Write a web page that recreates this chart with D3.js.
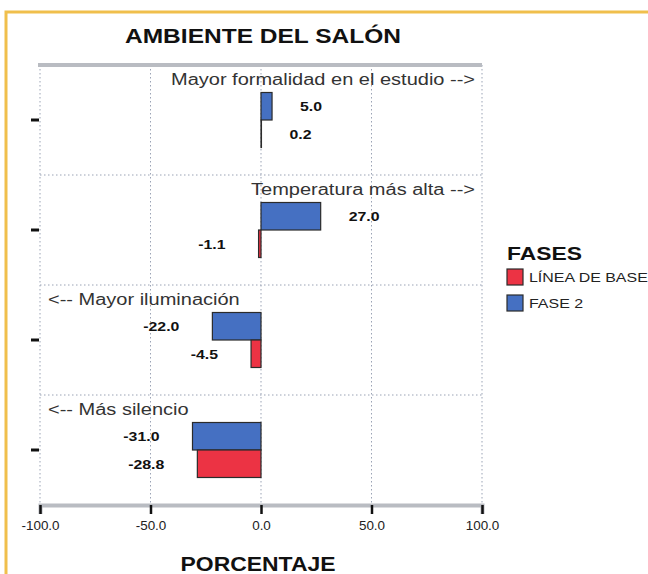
<!DOCTYPE html>
<html>

<head>
  <title>Ambiente del salón</title>
  <meta charset="utf-8">
  <script src="https://d3js.org/d3.v7.min.js"></script>
  <style>
    body { margin: 0; background: #fff; }
    svg text { font-family: "Liberation Sans", Arial, sans-serif; }
    .grid line { stroke: #9aa3b5; stroke-dasharray: 1.5 2.5; stroke-width: 1; }
    .value { font-weight: bold; font-size: 13px; fill: #111; }
    .cat { font-size: 16px; fill: #333; }
  </style>
</head>

<body>
  <svg id="chart" width="648" height="574"></svg>
  <script>
    // data
    var categories = ["Mayor formalidad en el estudio -->", "Temperatura más alta -->", "<-- Mayor iluminación", "<-- Más silencio"];
    var fase2 = [5.0, 27.0, -22.0, -31.0];
    var lineaBase = [0.2, -1.1, -4.5, -28.8];
    var series = ["FASE 2", "LÍNEA DE BASE"];
    var legendOrder = ["LÍNEA DE BASE", "FASE 2"];
    var xTicks = [-100, -50, 0, 50, 100];

    var colors = { "FASE 2": "#4570c2", "LÍNEA DE BASE": "#ec3344" };
    var plotLeft = 40, plotRight = 482, plotTop = 65, plotBottom = 505;

    // hyphen instead of the unicode minus, like the original
    function fmt(v) { return d3.format('.1f')(v).replace('\u2212', '-'); }

    // the original image is a bit stretched sideways, so texts are widened
    function stretch(sel, fx, fy, sx) {
      sel.attr('x', 0).attr('y', 0)
        .attr('transform', function (d, i) {
          return 'translate(' + fx(d, i) + ',' + fy(d, i) + ') scale(' + sx + ',1)';
        });
    }

    var svg = d3.select('#chart');

    // orange frame of the figure
    svg.append('path')
      .attr('d', 'M6,574 L6,12 L648,12')
      .attr('fill', 'none')
      .attr('stroke', '#f0bf4c')
      .attr('stroke-width', 3);

    var x = d3.scaleLinear().domain([-100, 100]).range([plotLeft, plotRight]);
    var y = d3.scaleBand().domain(categories).range([plotTop, plotBottom]);
    var ySub = d3.scaleBand().domain(series).range([y.bandwidth() * 0.25, y.bandwidth() * 0.75]);

    // grid
    var grid = svg.append('g').attr('class', 'grid');
    grid.selectAll('line.v')
      .data(xTicks)
      .enter().append('line')
      .attr('class', 'v')
      .attr('x1', function (d) { return x(d); })
      .attr('x2', function (d) { return x(d); })
      .attr('y1', plotTop).attr('y2', plotBottom);
    grid.selectAll('line.h')
      .data(categories.slice(1))
      .enter().append('line')
      .attr('class', 'h')
      .attr('x1', plotLeft).attr('x2', plotRight)
      .attr('y1', function (d) { return y(d); })
      .attr('y2', function (d) { return y(d); });

    // top border
    svg.append('line')
      .attr('x1', plotLeft - 2).attr('x2', plotRight)
      .attr('y1', plotTop).attr('y2', plotTop)
      .attr('stroke', '#b9bcc2').attr('stroke-width', 4);

    // category texts
    var cats = svg.selectAll('text.cat')
      .data(categories)
      .enter().append('text')
      .attr('class', 'cat')
      .attr('text-anchor', function (d, i) { return i < 2 ? 'end' : 'start'; })
      .text(function (d) { return d; });
    stretch(cats,
      function (d, i) { return i < 2 ? 475 : 48; },
      function (d) { return y(d) + 20; }, 1.25);

    // bars
    var rows = [];
    categories.forEach(function (c, i) {
      rows.push({ cat: c, s: "FASE 2", v: fase2[i] });
      rows.push({ cat: c, s: "LÍNEA DE BASE", v: lineaBase[i] });
    });

    svg.selectAll('rect.bar')
      .data(rows)
      .enter().append('rect')
      .attr('class', 'bar')
      .attr('x', function (d) { return x(Math.min(0, d.v)); })
      .attr('width', function (d) { return Math.abs(x(d.v) - x(0)); })
      .attr('y', function (d) { return y(d.cat) + ySub(d.s); })
      .attr('height', ySub.bandwidth())
      .attr('fill', function (d) { return colors[d.s]; })
      .attr('stroke', '#2b2b2b')
      .attr('stroke-width', 1.2);

    var vals = svg.selectAll('text.value')
      .data(rows)
      .enter().append('text')
      .attr('class', 'value')
      .attr('text-anchor', function (d) { return d.v >= 0 ? 'start' : 'end'; })
      .text(function (d) { return fmt(d.v); });
    stretch(vals,
      function (d) { return d.v >= 0 ? x(d.v) + 28 : x(d.v) - 33; },
      function (d) { return y(d.cat) + ySub(d.s) + ySub.bandwidth() / 2 + 5; }, 1.22);

    // category ticks on the left
    svg.selectAll('line.ytick')
      .data(categories)
      .enter().append('line')
      .attr('class', 'ytick')
      .attr('x1', 31).attr('x2', 39)
      .attr('y1', function (d) { return y(d) + y.bandwidth() / 2; })
      .attr('y2', function (d) { return y(d) + y.bandwidth() / 2; })
      .attr('stroke', '#111').attr('stroke-width', 3);

    // x axis
    var xAxis = d3.axisBottom(x)
      .tickValues(xTicks)
      .tickSize(9)
      .tickFormat(fmt);
    var ax = svg.append('g')
      .attr('transform', 'translate(0,' + plotBottom + ')')
      .call(xAxis);
    ax.select('.domain').attr('stroke', '#b9bcc2').attr('stroke-width', 4);
    ax.selectAll('.tick line').attr('stroke', '#111').attr('stroke-width', 2.5);
    ax.selectAll('.tick text')
      .attr('y', 16)
      .attr('font-size', 12)
      .attr('fill', '#222')
      .attr('font-family', '"Liberation Sans", Arial, sans-serif')
      .attr('transform', 'scale(1.12,1)')
      .attr('x', 0);
    ax.selectAll('.tick text').attr('x', 0);

    // titles
    svg.append('text')
      .attr('x', 263).attr('y', 43)
      .attr('text-anchor', 'middle')
      .attr('font-size', 21).attr('font-weight', 'bold').attr('fill', '#111')
      .attr('textLength', 276).attr('lengthAdjust', 'spacingAndGlyphs')
      .text('AMBIENTE DEL SALÓN');
    svg.append('text')
      .attr('x', 258).attr('y', 571)
      .attr('text-anchor', 'middle')
      .attr('font-size', 21).attr('font-weight', 'bold').attr('fill', '#111')
      .attr('textLength', 155).attr('lengthAdjust', 'spacingAndGlyphs')
      .text('PORCENTAJE');

    // legend
    var lg = svg.append('g').attr('transform', 'translate(507,0)');
    lg.append('text')
      .attr('x', 0).attr('y', 260)
      .attr('font-size', 19).attr('font-weight', 'bold').attr('fill', '#111')
      .attr('textLength', 75).attr('lengthAdjust', 'spacingAndGlyphs')
      .text('FASES');
    var items = lg.selectAll('g.item')
      .data(legendOrder)
      .enter().append('g')
      .attr('class', 'item')
      .attr('transform', function (d, i) { return 'translate(0,' + (269 + i * 26) + ')'; });
    items.append('rect')
      .attr('width', 16).attr('height', 16)
      .attr('fill', function (d) { return colors[d]; })
      .attr('stroke', '#2b2b2b').attr('stroke-width', 1.2);
    items.append('text')
      .attr('x', 0).attr('y', 0)
      .attr('transform', 'translate(22,13) scale(1.33,1)')
      .attr('font-size', 12).attr('fill', '#222')
      .text(function (d) { return d; });
  </script>
</body>

</html>
